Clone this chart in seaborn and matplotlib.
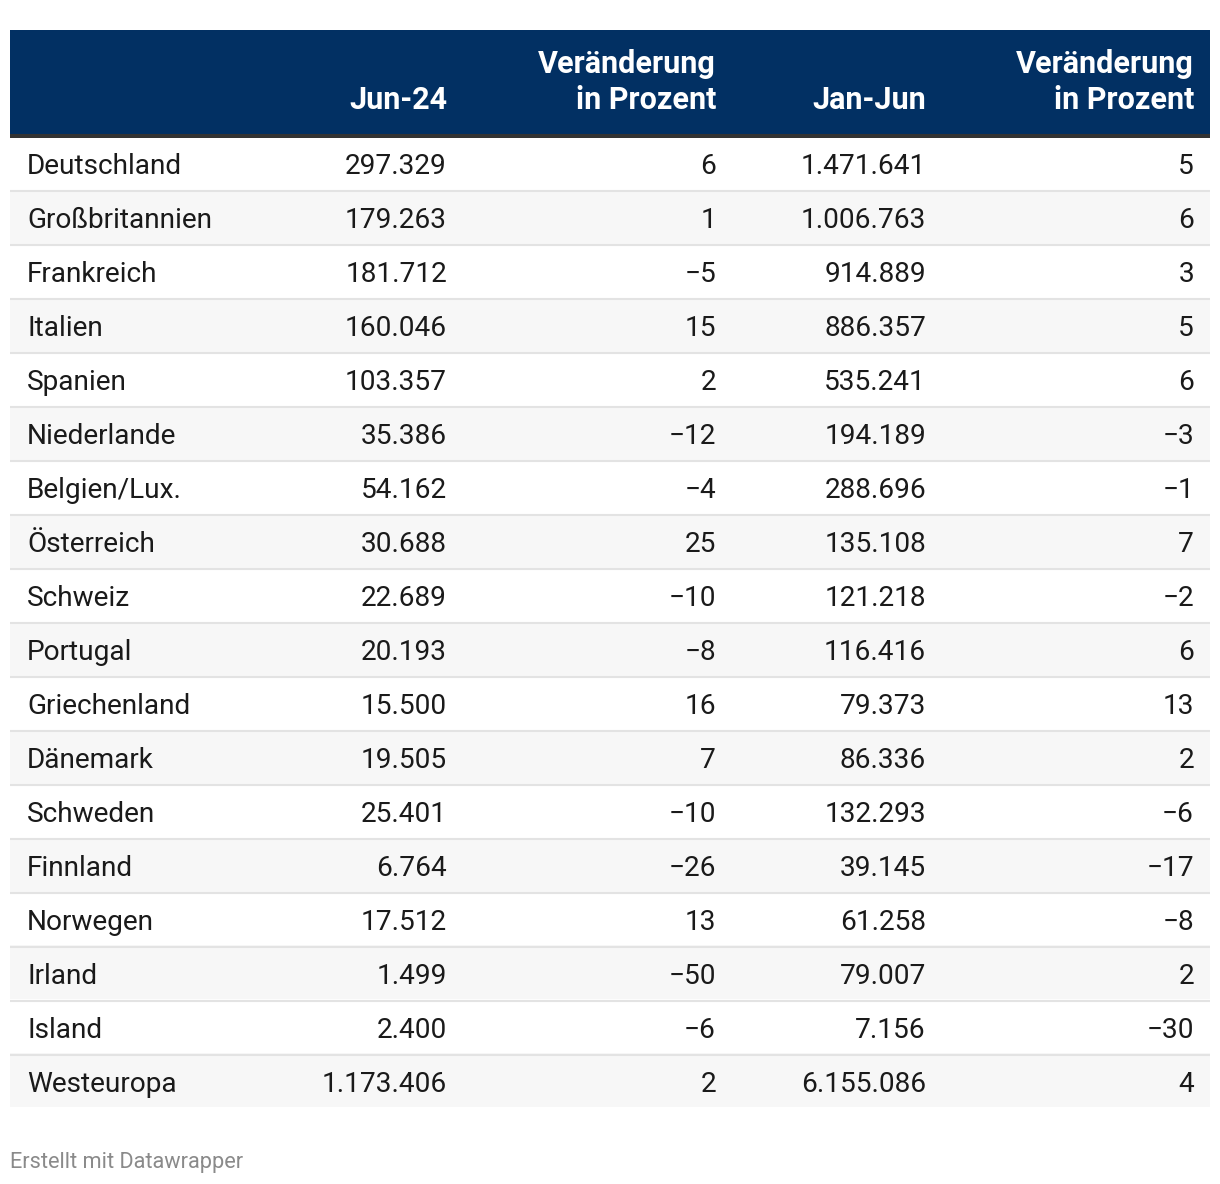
import matplotlib
matplotlib.use("Agg")
import matplotlib.pyplot as plt
from matplotlib.colors import ListedColormap
from matplotlib.patches import Rectangle
import numpy as np
import seaborn as sns

# table data
countries = ["Deutschland", "Großbritannien", "Frankreich", "Italien", "Spanien",
             "Niederlande", "Belgien/Lux.", "Österreich", "Schweiz", "Portugal",
             "Griechenland", "Dänemark", "Schweden", "Finnland", "Norwegen",
             "Irland", "Island", "Westeuropa"]
jun24 = [297329, 179263, 181712, 160046, 103357, 35386, 54162, 30688, 22689,
         20193, 15500, 19505, 25401, 6764, 17512, 1499, 2400, 1173406]
jun24_change = [6, 1, -5, 15, 2, -12, -4, 25, -10, -8, 16, 7, -10, -26, 13, -50, -6, 2]
jan_jun = [1471641, 1006763, 914889, 886357, 535241, 194189, 288696, 135108, 121218,
           116416, 79373, 86336, 132293, 39145, 61258, 79007, 7156, 6155086]
jan_jun_change = [5, 6, 3, 5, 6, -3, -1, 7, -2, 6, 13, 2, -6, -17, -8, 2, -30, 4]
header_labels = ["", "Jun-24", "Veränderung\nin Prozent", "Jan-Jun", "Veränderung\nin Prozent"]

HEADER_BG = "#023063"
TEXT = "#1a1a1a"


def fmt_int(v):
    return f"{v:,}".replace(",", ".")


def fmt_pct(v):
    return f"{v}".replace("-", "\u2212")


sns.set_theme(style="white")
plt.rcParams["font.family"] = ["Roboto", "DejaVu Sans"]

W, H = 1220, 1184
fig = plt.figure(figsize=(W / 100, H / 100), dpi=100)

n = len(countries)
row_h = 54
body_top = 138
left, right = 10, 1210

# striped row background via seaborn heatmap
body_ax = fig.add_axes([left / W, 1 - (body_top + n * row_h - 3) / H,
                        (right - left) / W, (n * row_h - 3) / H])
stripes = (np.arange(n) % 2).reshape(-1, 1)
sns.heatmap(stripes, cmap=ListedColormap(["#ffffff", "#f7f7f7"]), cbar=False,
            xticklabels=False, yticklabels=False, ax=body_ax)
body_ax.axis("off")

ax = fig.add_axes([0, 0, 1, 1])
ax.set_xlim(0, W)
ax.set_ylim(H, 0)
ax.set_facecolor("none")
ax.axis("off")

# header
ax.add_patch(Rectangle((left, 30), right - left, 104, color=HEADER_BG, lw=0))
ax.add_patch(Rectangle((left, 134), right - left, 4, color="#333333", lw=0))

col_x = [27, 447, 716, 926, 1194]
for x, lab in zip(col_x, header_labels):
    lines = lab.split("\n")
    for k, line in enumerate(reversed(lines)):
        ax.text(x, 109 - 36 * k, line, ha="right", va="baseline", color="white",
                fontsize=22, fontweight="bold")

# separators
for i in range(1, n):
    y = body_top + i * row_h - 1
    ax.hlines(y, left, right, color="#e3e3e3", lw=1.5)

# cells
fs = 20.2
for i in range(n):
    yb = 174 + i * row_h
    ax.text(col_x[0], yb, countries[i], ha="left", va="baseline", color=TEXT, fontsize=fs)
    ax.text(col_x[1], yb, fmt_int(jun24[i]), ha="right", va="baseline", color=TEXT, fontsize=fs)
    ax.text(col_x[2], yb, fmt_pct(jun24_change[i]), ha="right", va="baseline", color=TEXT, fontsize=fs)
    ax.text(col_x[3], yb, fmt_int(jan_jun[i]), ha="right", va="baseline", color=TEXT, fontsize=fs)
    ax.text(col_x[4], yb, fmt_pct(jan_jun_change[i]), ha="right", va="baseline", color=TEXT, fontsize=fs)

ax.text(10, 1168, "Erstellt mit Datawrapper", ha="left", va="baseline",
        color="#8a8a8a", fontsize=15.7)

fig.savefig("out.png", dpi=100)
